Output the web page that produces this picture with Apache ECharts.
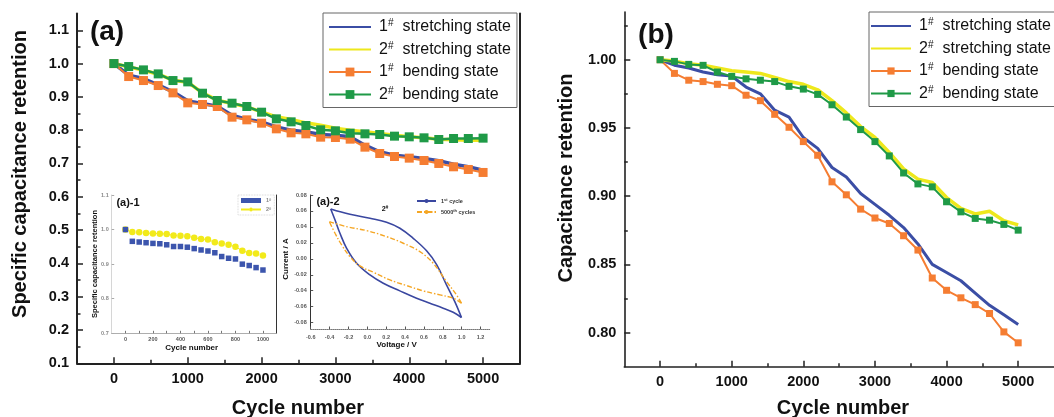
<!DOCTYPE html>
<html>
<head>
<meta charset="utf-8">
<script src="https://cdn.jsdelivr.net/npm/echarts@6/dist/echarts.min.js"></script>
<style>
html, body { margin: 0; padding: 0; background: #fff; }
#chart { width: 1054px; height: 417px; }
</style>
</head>
<body>
<div id="chart"></div>
<script>
// cycle numbers of the two main panels (one point every 200 cycles)
const cycles = [0, 200, 400, 600, 800, 1000, 1200, 1400, 1600, 1800, 2000, 2200, 2400,
    2600, 2800, 3000, 3200, 3400, 3600, 3800, 4000, 4200, 4400, 4600, 4800, 5000];

// panel (a)
const aStretch1 = [1.000, 0.965, 0.955, 0.936, 0.915, 0.888, 0.880, 0.872, 0.845, 0.832, 0.825, 0.810, 0.800,
    0.795, 0.787, 0.785, 0.780, 0.755, 0.735, 0.725, 0.720, 0.715, 0.708, 0.698, 0.690, 0.680];
const aStretch2 = [1.000, 0.990, 0.980, 0.968, 0.950, 0.944, 0.912, 0.890, 0.880, 0.870, 0.855, 0.840, 0.832,
    0.822, 0.815, 0.806, 0.800, 0.795, 0.790, 0.785, 0.780, 0.777, 0.773, 0.771, 0.770, 0.770];
const aBend1 = [1.000, 0.961, 0.949, 0.934, 0.912, 0.882, 0.877, 0.871, 0.839, 0.831, 0.821, 0.804, 0.792,
    0.789, 0.779, 0.778, 0.773, 0.749, 0.730, 0.721, 0.716, 0.709, 0.700, 0.690, 0.682, 0.673];
const aBend2 = [1.000, 0.991, 0.981, 0.969, 0.949, 0.945, 0.911, 0.889, 0.881, 0.871, 0.854, 0.834, 0.825,
    0.814, 0.801, 0.798, 0.791, 0.789, 0.787, 0.782, 0.780, 0.777, 0.772, 0.775, 0.775, 0.776];

// panel (b)
const bStretch1 = [1.000, 0.996, 0.994, 0.991, 0.989, 0.988, 0.980, 0.975, 0.963, 0.958, 0.943, 0.935, 0.921,
    0.914, 0.902, 0.894, 0.886, 0.877, 0.865, 0.850, 0.844, 0.838, 0.829, 0.820, 0.813, 0.806];
const bStretch2 = [1.000, 0.999, 0.997, 0.996, 0.994, 0.992, 0.991, 0.990, 0.987, 0.984, 0.982, 0.978, 0.970,
    0.961, 0.951, 0.943, 0.932, 0.920, 0.9125, 0.910, 0.899, 0.891, 0.887, 0.889, 0.882, 0.879];
const bBend1 = [1.000, 0.990, 0.985, 0.984, 0.982, 0.981, 0.974, 0.970, 0.960, 0.9505, 0.940, 0.930, 0.9105,
    0.901, 0.8905, 0.884, 0.880, 0.871, 0.8605, 0.840, 0.831, 0.8255, 0.8205, 0.814, 0.8005, 0.7925];
const bBend2 = [1.000, 0.9988, 0.9966, 0.9959, 0.991, 0.9878, 0.986, 0.985, 0.984, 0.9805, 0.9785, 0.9746, 0.967,
    0.958, 0.9488, 0.940, 0.9295, 0.917, 0.909, 0.9068, 0.8959, 0.8885, 0.8837, 0.8824, 0.8793, 0.8751];

// inset (a)-1
const insetCycles = [0, 50, 100, 150, 200, 250, 300, 350, 400, 450, 500, 550, 600, 650, 700, 750, 800, 850, 900, 950, 1000];
const inset1Sample1 = [1.000, 0.966, 0.964, 0.962, 0.960, 0.959, 0.956, 0.951, 0.951, 0.949, 0.945, 0.941, 0.938,
    0.933, 0.922, 0.917, 0.915, 0.900, 0.896, 0.890, 0.883];
const inset1Sample2 = [1.000, 0.993, 0.992, 0.990, 0.989, 0.988, 0.987, 0.983, 0.982, 0.981, 0.976, 0.973, 0.971,
    0.963, 0.960, 0.956, 0.950, 0.939, 0.932, 0.931, 0.925];

// inset (a)-2, CV loops (upper and lower branch)
const cv1UpperV = [-0.388, -0.184, 0.028, 0.204, 0.345, 0.486, 0.628, 0.733, 0.839, 0.927, 0.998];
const cv1UpperI = [0.0625, 0.0558, 0.0508, 0.0458, 0.0383, 0.0257, 0.0100, -0.0070, -0.0327, -0.0536, -0.0736];
const cv1LowerV = [0.998, 0.910, 0.804, 0.663, 0.522, 0.345, 0.169, 0.028, -0.113, -0.219, -0.290, -0.342, -0.388];
const cv1LowerI = [-0.0736, -0.0669, -0.0619, -0.0557, -0.0494, -0.0402, -0.0306, -0.0202, -0.0056, 0.0132, 0.0320, 0.0487, 0.0625];
const cv2UpperV = [-0.402, -0.219, -0.007, 0.204, 0.381, 0.557, 0.698, 0.839, 0.945, 0.998];
const cv2UpperI = [0.0466, 0.0403, 0.0353, 0.0278, 0.0195, 0.0090, -0.0056, -0.0285, -0.0452, -0.0557];
const cv2LowerV = [0.998, 0.910, 0.769, 0.592, 0.416, 0.240, 0.063, -0.078, -0.184, -0.272, -0.342, -0.402];
const cv2LowerI = [-0.0557, -0.0494, -0.0452, -0.0402, -0.0335, -0.0265, -0.0168, -0.0089, 0.0028, 0.0174, 0.0320, 0.0466];

// tick labels
const cycleTicks = [0, 1000, 2000, 3000, 4000, 5000];
const cycleMinor = [500, 1500, 2500, 3500, 4500];
const aRetTicks = [0.1, 0.2, 0.3, 0.4, 0.5, 0.6, 0.7, 0.8, 0.9, 1.0, 1.1];
const aRetMinor = [0.15, 0.25, 0.35, 0.45, 0.55, 0.65, 0.75, 0.85, 0.95, 1.05];
const bRetTicks = [0.80, 0.85, 0.90, 0.95, 1.00];
const bRetMinor = [0.825, 0.875, 0.925, 0.975, 1.025];
const insetCycleTicks = [0, 200, 400, 600, 800, 1000];
const insetCycleMinor = [100, 300, 500, 700, 900];
const insetRetTicks = [0.7, 0.8, 0.9, 1.0, 1.1];
const voltTicks = [-0.6, -0.4, -0.2, 0.0, 0.2, 0.4, 0.6, 0.8, 1.0, 1.2];
const currentTicks = [-0.08, -0.06, -0.04, -0.02, 0.00, 0.02, 0.04, 0.06, 0.08];

const FONT = '"Liberation Sans", Arial, sans-serif';
const BLUE = '#3b4ea5', YELLOW = '#eee81c', ORANGE = '#f57d32', GREEN = '#1f9a47';

function zip(xs, ys) {
    return xs.map((x, i) => [x, ys[i]]);
}

let myChart = echarts.init(document.getElementById('chart'));

// 主图的坐标轴: 主刻度带标签, 次刻度用另一根轴画
function mainX(grid, width) {
    return [{
        gridIndex: grid, type: 'value', min: -500, max: 5500, position: 'bottom',
        axisLine: { onZero: false, lineStyle: { color: '#222', width: width } },
        axisTick: { inside: true, length: 6, customValues: cycleTicks, lineStyle: { color: '#222', width: 1.5 } },
        axisLabel: { customValues: cycleTicks, margin: 8, fontSize: 14.5, fontWeight: 'bold', color: '#111', fontFamily: FONT,
            formatter: v => String(v) },
        splitLine: { show: false }
    }, {
        gridIndex: grid, type: 'value', min: -500, max: 5500, position: 'bottom',
        axisLine: { show: false, onZero: false },
        axisTick: { inside: true, length: 3.5, customValues: cycleMinor, lineStyle: { color: '#222', width: 1.5 } },
        axisLabel: { show: false },
        splitLine: { show: false }
    }];
}

function mainY(grid, min, max, ticks, minor, digits, width) {
    return [{
        gridIndex: grid, type: 'value', min: min, max: max, position: 'left',
        axisLine: { show: true, onZero: false, lineStyle: { color: '#222', width: width } },
        axisTick: { show: true, inside: true, length: 6, customValues: ticks, lineStyle: { color: '#222', width: 1.5 } },
        axisLabel: {
            customValues: ticks, margin: 8, fontSize: 14.5, fontWeight: 'bold', color: '#111', fontFamily: FONT,
            formatter: v => v.toFixed(digits)
        },
        splitLine: { show: false }
    }, {
        gridIndex: grid, type: 'value', min: min, max: max, position: 'left',
        axisLine: { show: false, onZero: false },
        axisTick: { show: true, inside: true, length: 3.5, customValues: minor, lineStyle: { color: '#222', width: 1.5 } },
        axisLabel: { show: false },
        splitLine: { show: false }
    }];
}

const legendNames = {
    S1: ['1', 'stretching state'],
    S2: ['2', 'stretching state'],
    B1: ['1', 'bending state'],
    B2: ['2', 'bending state']
};

function mainLegend(left, top, iconWidth, iconHeight, pad) {
    return {
        // the stretching lines have no marker, so their legend marker is hidden
        data: [{ name: 'S1', itemStyle: { opacity: 0 } }, { name: 'S2', itemStyle: { opacity: 0 } }, 'B1', 'B2'],
        orient: 'vertical', left: left, top: top,
        itemWidth: iconWidth, itemHeight: iconHeight, itemGap: 6,
        padding: pad,
        borderColor: '#666', borderWidth: 1,
        selectedMode: false,
        formatter: n => '{n|' + legendNames[n][0] + '}{s|#}{t|' + legendNames[n][1] + '}',
        textStyle: {
            rich: {
                n: { fontSize: 16, fontFamily: FONT, color: '#111', padding: [0, 0, 0, 3], lineHeight: 17 },
                s: { fontSize: 10, fontFamily: FONT, color: '#111', verticalAlign: 'top', lineHeight: 10 },
                t: { fontSize: 16, fontFamily: FONT, color: '#111', padding: [0, 0, 0, 9], lineHeight: 17 }
            }
        }
    };
}

function mainSeries(xi, yi, s1, s2, b1, b2, big) {
    return [
        { name: 'S1', type: 'line', xAxisIndex: xi, yAxisIndex: yi, data: zip(cycles, s1), showSymbol: false, symbol: 'none',
          lineStyle: { color: BLUE, width: big ? 3.5 : 3 }, itemStyle: { color: BLUE } },
        { name: 'S2', type: 'line', xAxisIndex: xi, yAxisIndex: yi, data: zip(cycles, s2), showSymbol: false, symbol: 'none',
          lineStyle: { color: YELLOW, width: 3.5 }, itemStyle: { color: YELLOW } },
        { name: 'B1', type: 'line', xAxisIndex: xi, yAxisIndex: yi, data: zip(cycles, b1), symbol: 'rect', symbolSize: big ? 9 : 7,
          lineStyle: { color: ORANGE, width: 2 }, itemStyle: { color: ORANGE } },
        { name: 'B2', type: 'line', xAxisIndex: xi, yAxisIndex: yi, data: zip(cycles, b2), symbol: 'rect', symbolSize: big ? 9 : 7,
          lineStyle: { color: GREEN, width: big ? 2.5 : 2 }, itemStyle: { color: GREEN } }
    ];
}

function text(x, y, str, size, rot, rich) {
    return {
        type: 'text', x: x, y: y, rotation: rot || 0,
        style: {
            text: str, fontSize: size, fontWeight: 'bold', fontFamily: FONT, fill: '#111',
            align: 'center', verticalAlign: 'middle', rich: rich
        }
    };
}

const xA = mainX(0, 2);
const xB = mainX(1, 1.6);
const yA = mainY(0, 0.1, 1.15, aRetTicks, aRetMinor, 1, 2);
const yB = mainY(1, 0.775, 1.035, bRetTicks, bRetMinor, 2, 1.6);

const smallLabel = { fontSize: 5.5, fontWeight: 'bold', color: '#555', fontFamily: FONT, margin: 3 };

let option = {
    animation: false,
    backgroundColor: '#fff',
    grid: [
        { left: 77, top: 13.6, right: 534, bottom: 53.7 },
        { left: 624.3, top: 12, right: -10, bottom: 50.3 },
        { left: 111.7, top: 195, right: 777.3, bottom: 83.7 },
        { left: 310.7, top: 195, right: 564, bottom: 88 }
    ],
    xAxis: [
        xA[0], xA[1], xB[0], xB[1],
        { // inset (a)-1
            gridIndex: 2, type: 'value', min: -100, max: 1100, position: 'bottom',
            axisLine: { onZero: false, lineStyle: { color: '#999', width: 0.8 } },
            axisTick: { inside: true, length: 2.5, customValues: insetCycleTicks.concat(insetCycleMinor), lineStyle: { color: '#777' } },
            axisLabel: Object.assign({ customValues: insetCycleTicks, formatter: v => String(v) }, smallLabel),
            splitLine: { show: false }
        },
        { // inset (a)-2
            gridIndex: 3, type: 'value', min: -0.6, max: 1.3, position: 'bottom',
            axisLine: { onZero: false, lineStyle: { color: '#777', width: 1, type: 'dotted' } },
            axisTick: { inside: true, length: 2.5, customValues: voltTicks, lineStyle: { color: '#555' } },
            axisLabel: Object.assign({ customValues: voltTicks, formatter: v => v.toFixed(1) }, smallLabel, { margin: 5 }),
            splitLine: { show: false }
        }
    ],
    yAxis: [
        yA[0], yA[1],
        { gridIndex: 0, type: 'value', min: 0.1, max: 1.15, position: 'right',
          axisLine: { show: true, onZero: false, lineStyle: { color: '#222', width: 2 } },
          axisTick: { show: false }, axisLabel: { show: false }, splitLine: { show: false } },
        yB[0], yB[1],
        { // inset (a)-1 left
            gridIndex: 2, type: 'value', min: 0.7, max: 1.1, position: 'left',
            axisLine: { show: true, onZero: false, lineStyle: { color: '#ccc', width: 0.8 } },
            axisTick: { show: true, inside: true, length: 2.5, customValues: insetRetTicks, lineStyle: { color: '#aaa' } },
            axisLabel: Object.assign({ customValues: insetRetTicks, formatter: v => v.toFixed(1) }, smallLabel, { color: '#888' }),
            splitLine: { show: false }
        },
        { // inset (a)-1 right border
            gridIndex: 2, type: 'value', min: 0.7, max: 1.1, position: 'right',
            axisLine: { show: true, onZero: false, lineStyle: { color: '#333', width: 1 } },
            axisTick: { show: false }, axisLabel: { show: false }, splitLine: { show: false }
        },
        { // inset (a)-2
            gridIndex: 3, type: 'value', min: -0.088, max: 0.08, position: 'left',
            axisLine: { show: true, onZero: false, lineStyle: { color: '#333', width: 1 } },
            axisTick: { show: true, inside: true, length: 2.5, customValues: currentTicks, lineStyle: { color: '#555' } },
            axisLabel: Object.assign({ customValues: currentTicks, formatter: v => v.toFixed(2) }, smallLabel, { margin: 4 }),
            splitLine: { show: false }
        }
    ],
    legend: [
        mainLegend(323, 13, 42, 11, [5.5, 6, 5, 5]),
        mainLegend(869, 12, 40, 9, [5.5, 12, 5, 1]),
        {
            data: ['i1', 'i2'], orient: 'vertical', left: 238, top: 195,
            itemWidth: 20, itemHeight: 5, itemGap: 3, padding: [2.5, 3, 2.5, 2],
            borderColor: '#ccc', borderWidth: 0.8, borderType: 'dotted', selectedMode: false,
            formatter: n => (n === 'i1' ? '1' : '2') + '{s|#}',
            textStyle: { fontSize: 5.5, fontWeight: 'bold', color: '#888', fontFamily: FONT,
                rich: { s: { fontSize: 4, color: '#888', verticalAlign: 'top' } } }
        },
        {
            data: ['cv1', 'cv2'], orient: 'vertical', left: 416, top: 198,
            itemWidth: 19, itemHeight: 5, itemGap: 5, padding: 0, selectedMode: false,
            formatter: n => n === 'cv1' ? '1{s|st} cycle' : '5000{s|th} cycles',
            textStyle: { fontSize: 5.5, fontWeight: 'bold', color: '#333', fontFamily: FONT,
                rich: { s: { fontSize: 4, fontWeight: 'bold', color: '#333', verticalAlign: 'top' } } }
        }
    ],
    graphic: [
        text(107, 32, '(a)', 28),
        text(656, 35, '(b)', 28),
        text(20, 174, 'Specific capacitance retention', 20, Math.PI / 2),
        text(298, 408, 'Cycle number', 20),
        text(566.7, 178, 'Capacitance retention', 20, Math.PI / 2),
        text(843, 408, 'Cycle number', 20),
        text(128, 203, '(a)-1', 11),
        text(328, 202, '(a)-2', 11),
        text(385, 209, '2{s|#}', 7, 0, { s: { fontSize: 5, fontWeight: 'bold', fill: '#111', verticalAlign: 'top' } }),
        text(94.5, 264, 'Specific capacitance retention', 7.5, Math.PI / 2),
        text(191.7, 348, 'Cycle number', 8),
        text(286, 259, 'Current / A', 8, Math.PI / 2),
        text(396.7, 345, 'Voltage / V', 8)
    ],
    series: mainSeries(0, 0, aStretch1, aStretch2, aBend1, aBend2, true)
        .concat(mainSeries(2, 3, bStretch1, bStretch2, bBend1, bBend2, false))
        .concat([
            { name: 'i2', type: 'line', xAxisIndex: 4, yAxisIndex: 5, data: zip(insetCycles, inset1Sample2),
              symbol: 'circle', symbolSize: 6.5, showAllSymbol: true, z: 2,
              lineStyle: { color: '#f2ea1a', width: 1, type: 'dashed' }, itemStyle: { color: '#f2ea1a' } },
            { name: 'i1', type: 'scatter', xAxisIndex: 4, yAxisIndex: 5, data: zip(insetCycles, inset1Sample1),
              symbol: 'rect', symbolSize: 5.5, z: 4, itemStyle: { color: '#3c55ad', opacity: 1 } },
            { name: 'cv1', type: 'line', xAxisIndex: 5, yAxisIndex: 7, data: zip(cv1UpperV, cv1UpperI), smooth: 0.4,
              showSymbol: false, symbol: 'none', lineStyle: { color: '#3a47a0', width: 1.6 }, itemStyle: { color: '#3a47a0' } },
            { name: 'cv1', type: 'line', xAxisIndex: 5, yAxisIndex: 7, data: zip(cv1LowerV, cv1LowerI), smooth: 0.4,
              showSymbol: false, symbol: 'none', lineStyle: { color: '#3a47a0', width: 1.6 } },
            { name: 'cv2', type: 'line', xAxisIndex: 5, yAxisIndex: 7, data: zip(cv2UpperV, cv2UpperI), smooth: 0.4,
              showSymbol: false, symbol: 'none', lineStyle: { color: '#f5a623', width: 1.4, type: [5, 2, 1.5, 2] }, itemStyle: { color: '#f5a623' } },
            { name: 'cv2', type: 'line', xAxisIndex: 5, yAxisIndex: 7, data: zip(cv2LowerV, cv2LowerI), smooth: 0.4,
              showSymbol: false, symbol: 'none', lineStyle: { color: '#f5a623', width: 1.4, type: [5, 2, 1.5, 2] } }
        ])
};

myChart.setOption(option);
</script>
</body>
</html>
